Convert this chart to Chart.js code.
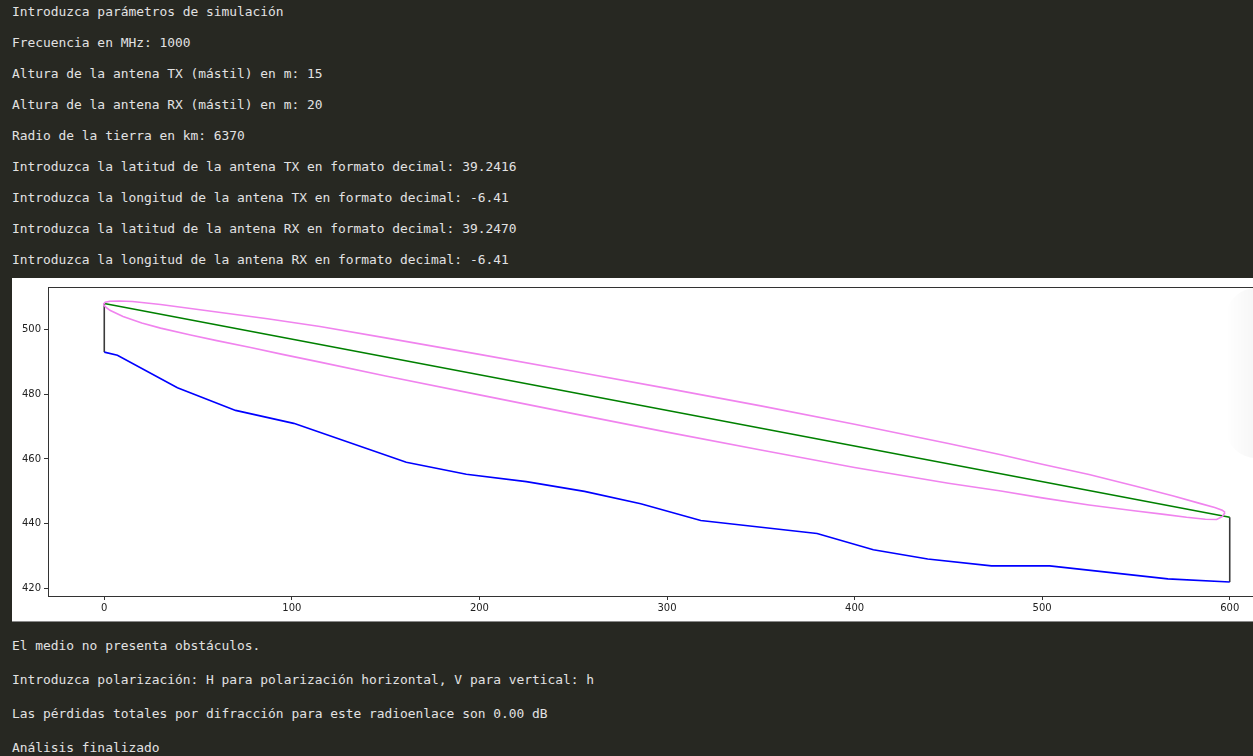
<!DOCTYPE html>
<html>
<head>
<meta charset="utf-8">
<script src="https://cdn.jsdelivr.net/npm/chart.js@4.4.1/dist/chart.umd.min.js"></script>
<style>
  html, body { margin: 0; padding: 0; }
  body {
    width: 1253px; height: 756px; overflow: hidden; position: relative;
    background: #272822;
    font-family: "DejaVu Sans Mono", monospace; font-size: 12.9px; color: #e2e2e2;
  }
  .line { position: absolute; left: 12px; white-space: pre; line-height: 16px; }
  #panel {
    position: absolute; left: 12px; top: 278px; width: 1290px; height: 343px;
    background: #fff; border-bottom: 1px solid #8a8a8a;
  }
  #shade {
    position: absolute; left: 1226px; top: 288px; width: 60px; height: 170px;
    border-radius: 30px;
    background: linear-gradient(to right, rgba(0,0,0,0), rgba(0,0,0,0.07));
  }
</style>
</head>
<body>
<div class="line" style="top:4px">Introduzca parámetros de simulación</div>
<div class="line" style="top:35px">Frecuencia en MHz: 1000</div>
<div class="line" style="top:66px">Altura de la antena TX (mástil) en m: 15</div>
<div class="line" style="top:97px">Altura de la antena RX (mástil) en m: 20</div>
<div class="line" style="top:128px">Radio de la tierra en km: 6370</div>
<div class="line" style="top:159px">Introduzca la latitud de la antena TX en formato decimal: 39.2416</div>
<div class="line" style="top:190px">Introduzca la longitud de la antena TX en formato decimal: -6.41</div>
<div class="line" style="top:221px">Introduzca la latitud de la antena RX en formato decimal: 39.2470</div>
<div class="line" style="top:252px">Introduzca la longitud de la antena RX en formato decimal: -6.41</div>

<div id="panel"><canvas id="perfil" width="1290" height="343"></canvas></div>
<div id="shade"></div>

<div class="line" style="top:638px">El medio no presenta obstáculos.</div>
<div class="line" style="top:672px">Introduzca polarización: H para polarización horizontal, V para vertical: h</div>
<div class="line" style="top:706px">Las pérdidas totales por difracción para este radioenlace son 0.00 dB</div>
<div class="line" style="top:740px">Análisis finalizado</div>

<script>
// perfil del terreno (distancia en m, cota en m)
const terrainX = [0, 7, 39, 70, 101, 161, 193, 225, 256, 286, 318, 380, 410, 439, 473, 504, 567, 600];
const terrainY = [493, 492, 482, 475, 471, 459, 455.3, 453, 450, 446.2, 441, 437, 432, 429.1, 427, 427, 423, 422];

// rayo directo TX -> RX
const linkX = [0, 600];
const linkY = [508, 442];

// mastiles
const mastTxX = [0, 0];
const mastTxY = [493, 508];
const mastRxX = [600, 600];
const mastRxY = [422, 442];

// elipse de Fresnel, borde superior e inferior
const fresnelUpX = [-0.5, 0.5, 3, 8, 15, 30, 51, 87, 115, 150, 200, 250, 300, 350, 400, 450, 478, 500, 525, 550, 570, 584, 592, 596, 597.5];
const fresnelUpY = [507.7, 508.4, 508.7, 508.8, 508.6, 507.7, 506.1, 503.3, 500.9, 497.4, 492.3, 487.1, 481.8, 476.4, 470.7, 464.8, 461.3, 458.4, 455.2, 451.6, 448.6, 446.3, 445.0, 444.2, 443.5];
const fresnelLoX = [-0.5, 0.5, 3, 10, 20, 30, 46, 60, 78, 95, 115, 150, 200, 250, 300, 350, 400, 450, 478, 500, 525, 549, 565, 577, 587, 593, 596, 597.5];
const fresnelLoY = [507.7, 507.0, 505.9, 504.0, 502.0, 500.4, 498.3, 496.55, 494.4, 492.3, 489.9, 485.6, 479.8, 474.0, 468.3, 462.8, 457.4, 452.5, 450.1, 448.0, 445.8, 444.0, 442.9, 442.0, 441.4, 441.3, 442.2, 443.5];

const xTicks = [0, 100, 200, 300, 400, 500, 600];
const yTicks = [420, 440, 460, 480, 500];

const pts = (xs, ys) => xs.map((x, i) => ({x: x, y: ys[i]}));

function serie(xs, ys, color) {
    return {
        data: pts(xs, ys),
        borderColor: color,
        borderWidth: 1.6,
        pointRadius: 0,
        tension: 0,
        fill: false
    };
}

const axisFont = {family: 'DejaVu Sans', size: 10};

const frame = {
    id: 'frame',
    afterDraw: chart => {
        const a = chart.chartArea;
        const ctx = chart.ctx;
        ctx.save();
        ctx.strokeStyle = '#333';
        ctx.lineWidth = 1;
        ctx.strokeRect(Math.round(a.left) + 0.5, Math.round(a.top) + 0.5,
            Math.round(a.right - a.left), Math.round(a.bottom - a.top));
        ctx.restore();
    }
};

new Chart(document.getElementById('perfil'), {
    type: 'line',
    data: {
        datasets: [
            serie(fresnelUpX, fresnelUpY, '#f083ee'),
            serie(fresnelLoX, fresnelLoY, '#f083ee'),
            serie(linkX, linkY, '#008000'),
            serie(terrainX, terrainY, '#0000ff'),
            serie(mastTxX, mastTxY, '#3a3a3a'),
            serie(mastRxX, mastRxY, '#3a3a3a')
        ]
    },
    options: {
        responsive: false,
        animation: false,
        devicePixelRatio: 1,
        layout: {padding: {top: 8, right: 16, left: 0, bottom: 0}},
        plugins: {legend: {display: false}, tooltip: {enabled: false}},
        scales: {
            x: {
                type: 'linear',
                min: -30,
                max: 630,
                afterBuildTicks: s => { s.ticks = xTicks.map(v => ({value: v})); },
                afterFit: s => { s.height = 25; },
                ticks: {font: axisFont, color: '#222', padding: 2, maxRotation: 0, autoSkip: false},
                grid: {drawOnChartArea: false, tickLength: 4, color: '#333', lineWidth: 1},
                border: {color: '#333', width: 1}
            },
            y: {
                type: 'linear',
                min: 417.7,
                max: 513.1,
                afterBuildTicks: s => { s.ticks = yTicks.map(v => ({value: v})); },
                afterFit: s => { s.width = 36; },
                ticks: {font: axisFont, color: '#222', padding: 3, autoSkip: false},
                grid: {drawOnChartArea: false, tickLength: 4, color: '#333', lineWidth: 1},
                border: {color: '#333', width: 1}
            }
        }
    },
    plugins: [frame]
});
</script>
</body>
</html>
